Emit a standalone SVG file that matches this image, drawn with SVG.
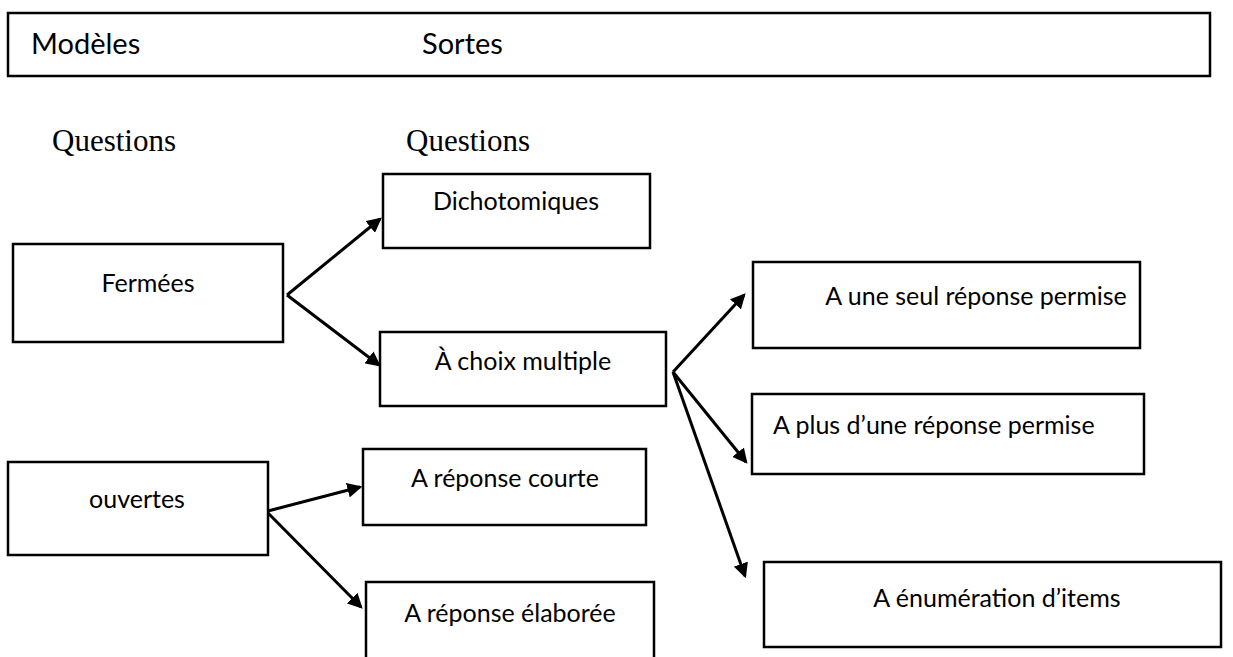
<svg xmlns="http://www.w3.org/2000/svg" width="1233" height="657" viewBox="0 0 1233 657">
<style>
.box{fill:#fff;stroke:#000;stroke-width:2.5}
.t{font-family:Lato,"Open Sans","Liberation Sans",sans-serif;font-size:25px;fill:#000}
.h{font-family:Lato,"Open Sans","Liberation Sans",sans-serif;font-size:29px;fill:#000}
.s{font-family:"Liberation Serif",serif;font-size:31px;fill:#000}
.c{stroke:#000;stroke-width:3;fill:none;marker-end:url(#ah)}
</style>
<defs>
<marker id="ah" markerWidth="5" markerHeight="5" refX="4.2" refY="2.5" orient="auto" markerUnits="strokeWidth">
<path d="M0,0 L5,2.5 L0,5 Z" fill="#000"/>
</marker>
</defs>
<g id="header">
<rect class="box" x="8" y="13" width="1202" height="63" stroke-width="3"/>
<text class="h" x="31" y="54">Modèles</text>
<text class="h" x="422" y="54">Sortes</text>
</g>
<text class="s" x="52" y="151">Questions</text>
<text class="s" x="406" y="151">Questions</text>
<g id="connectors">
<line class="c" x1="287" y1="295" x2="380" y2="219"/>
<line class="c" x1="287" y1="295" x2="379" y2="365"/>
<line class="c" x1="673" y1="372" x2="744" y2="295"/>
<line class="c" x1="673" y1="372" x2="746" y2="462"/>
<line class="c" x1="673" y1="372" x2="745" y2="576"/>
<line class="c" x1="268" y1="511" x2="360" y2="487"/>
<line class="c" x1="268" y1="513" x2="361" y2="607"/>
</g>
<g id="fermees">
<rect class="box" x="13" y="244" width="270" height="98"/>
<text class="t" x="148" y="292" text-anchor="middle">Fermées</text>
</g>
<g id="dichotomiques">
<rect class="box" x="383" y="174" width="267" height="74"/>
<text class="t" x="516" y="210" text-anchor="middle">Dichotomiques</text>
</g>
<g id="choix-multiple">
<rect class="box" x="380" y="332" width="286" height="74"/>
<text class="t" x="523" y="370" text-anchor="middle">À choix multiple</text>
</g>
<g id="une-seule">
<rect class="box" x="753" y="262" width="387" height="86"/>
<text class="t" x="976" y="305" text-anchor="middle">A une seul réponse permise</text>
</g>
<g id="plus-une">
<rect class="box" x="752" y="394" width="392" height="80"/>
<text class="t" x="773" y="434">A plus d’une réponse permise</text>
</g>
<g id="ouvertes">
<rect class="box" x="8" y="462" width="260" height="93"/>
<text class="t" x="137" y="508" text-anchor="middle">ouvertes</text>
</g>
<g id="courte">
<rect class="box" x="363" y="449" width="283" height="76"/>
<text class="t" x="505" y="487" text-anchor="middle">A réponse courte</text>
</g>
<g id="elaboree">
<rect class="box" x="366" y="582" width="288" height="80"/>
<text class="t" x="510" y="622" text-anchor="middle">A réponse élaborée</text>
</g>
<g id="enumeration">
<rect class="box" x="764" y="562" width="457" height="85"/>
<text class="t" x="997" y="607" text-anchor="middle">A énumération d’items</text>
</g>
</svg>
